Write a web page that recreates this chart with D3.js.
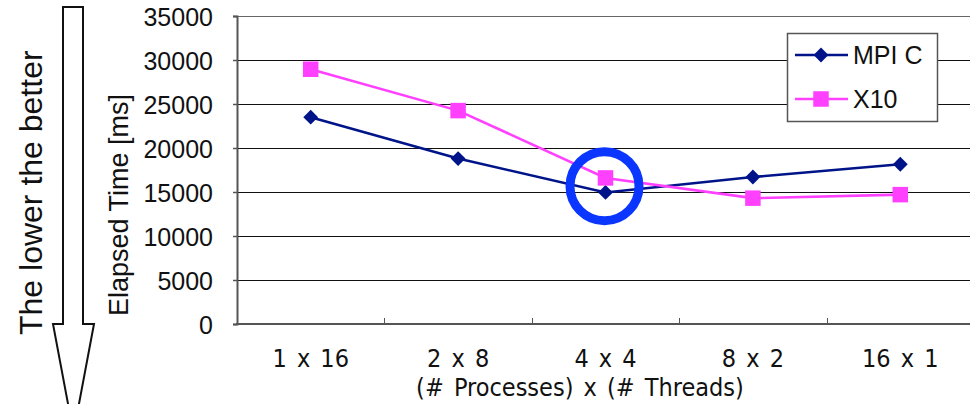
<!DOCTYPE html>
<html>
<head>
<meta charset="utf-8">
<script src="https://cdn.jsdelivr.net/npm/d3@7"></script>
<style>
  html, body { margin: 0; padding: 0; background: #fff; }
  svg { display: block; }
  .num { font-family: "Liberation Sans", Arial, sans-serif; }
  .cat { font-family: "Liberation Sans Narrow", "DejaVu Sans Condensed", "Liberation Sans", sans-serif; font-stretch: condensed; }
</style>
</head>
<body>
<svg id="chart" width="970" height="404"></svg>
<script>
// Elapsed time per process/thread split
const categories = ["1 x 16", "2 x 8", "4 x 4", "8 x 2", "16 x 1"];
const mpiC = [23500, 18800, 14950, 16700, 18150];
const x10 = [28950, 24250, 16600, 14300, 14700];
const yTicks = [0, 5000, 10000, 15000, 20000, 25000, 30000, 35000];
const seriesNames = ["MPI C", "X10"];
const highlightCategory = "4 x 4";

const W = 970, H = 404;
const plot = { left: 237, right: 974, top: 16, bottom: 324 };
const navy = "#001489", magenta = "#ff40ff", ring = "#0a36ff";

const svg = d3.select("#chart");

const x = d3.scaleBand().domain(categories).range([plot.left, plot.right]).padding(0);
const y = d3.scaleLinear().domain([0, 35000]).range([plot.bottom, plot.top]);
const cx = d => x(d) + x.bandwidth() / 2;

// Horizontal gridlines
svg.append("g").selectAll("line")
  .data(yTicks.filter(v => v > 0))
  .join("line")
  .attr("x1", plot.left).attr("x2", W)
  .attr("y1", d => Math.round(y(d)) + 0.5).attr("y2", d => Math.round(y(d)) + 0.5)
  .attr("stroke", d => d === 35000 ? "#666" : "#111")
  .attr("stroke-width", 1);

// Y axis
const yAxis = svg.append("g")
  .attr("transform", `translate(${plot.left},0)`)
  .call(d3.axisLeft(y).tickValues(yTicks).tickFormat(d3.format("d")).tickSize(4).tickPadding(20));
yAxis.select(".domain").attr("stroke", "#555").attr("stroke-width", 2);
yAxis.selectAll(".tick line").attr("stroke", "#555").attr("stroke-width", 1.5);
yAxis.selectAll("text").attr("class", "num").attr("font-size", 25).attr("fill", "#111").attr("dy", "0.38em");

// X axis line and inner ticks at category boundaries
svg.append("line")
  .attr("x1", plot.left - 1).attr("x2", W)
  .attr("y1", plot.bottom).attr("y2", plot.bottom)
  .attr("stroke", "#555").attr("stroke-width", 2);
svg.append("g").selectAll("line")
  .data(categories.slice(1))
  .join("line")
  .attr("x1", d => Math.round(x(d)) + 0.5).attr("x2", d => Math.round(x(d)) + 0.5)
  .attr("y1", plot.bottom).attr("y2", plot.bottom - 6)
  .attr("stroke", "#555").attr("stroke-width", 1);

// Category labels
svg.append("g").selectAll("text")
  .data(categories)
  .join("text")
  .attr("class", "cat")
  .attr("x", d => cx(d)).attr("y", 367)
  .attr("text-anchor", "middle")
  .attr("font-size", 25)
  .attr("word-spacing", 3)
  .attr("fill", "#111")
  .text(d => d);

svg.append("text")
  .attr("class", "cat")
  .attr("x", 580).attr("y", 396)
  .attr("text-anchor", "middle")
  .attr("font-size", 25)
  .attr("word-spacing", 3)
  .attr("fill", "#111")
  .text("(# Processes) x (# Threads)");

// Y axis title
svg.append("text")
  .attr("class", "num")
  .attr("transform", `translate(128,205) rotate(-90)`)
  .attr("text-anchor", "middle")
  .attr("font-size", 27)
  .attr("fill", "#111")
  .text("Elapsed Time [ms]");

// Series lines and markers
const line = d3.line().x((d, i) => cx(categories[i])).y(d => y(d));
const series = [
  { name: seriesNames[0], values: mpiC, color: navy, shape: "diamond" },
  { name: seriesNames[1], values: x10, color: magenta, shape: "square" }
];
const markerPath = shape => shape === "diamond"
  ? d3.symbol().type(d3.symbolSquare).size(110)()
  : d3.symbol().type(d3.symbolSquare).size(240)();
const markerRot = shape => shape === "diamond" ? 45 : 0;

series.forEach(s => {
  svg.append("path")
    .datum(s.values)
    .attr("d", line)
    .attr("fill", "none")
    .attr("stroke", s.color)
    .attr("stroke-width", 2.6);
});
series.forEach(s => {
  svg.append("g").selectAll("path")
    .data(s.values)
    .join("path")
    .attr("d", markerPath(s.shape))
    .attr("transform", (d, i) => `translate(${cx(categories[i])},${y(d)}) rotate(${markerRot(s.shape)})`)
    .attr("fill", s.color);
});

// Highlight ring around the crossover point
const ringCenter = (y(mpiC[2]) + y(x10[2])) / 2;
svg.append("circle")
  .attr("cx", cx(highlightCategory) - 1)
  .attr("cy", ringCenter + 1)
  .attr("r", 34.5)
  .attr("fill", "none")
  .attr("stroke", ring)
  .attr("stroke-width", 9);

// Legend
const lg = svg.append("g");
lg.append("rect")
  .attr("x", 787.5).attr("y", 33.5).attr("width", 150).attr("height", 88)
  .attr("fill", "#fff").attr("stroke", "#555").attr("stroke-width", 1.5);
series.forEach((s, i) => {
  const ly = 55 + i * 44;
  lg.append("line")
    .attr("x1", 795).attr("x2", 848).attr("y1", ly).attr("y2", ly)
    .attr("stroke", s.color).attr("stroke-width", 2.6);
  lg.append("path")
    .attr("d", markerPath(s.shape))
    .attr("transform", `translate(821,${ly}) rotate(${markerRot(s.shape)})`)
    .attr("fill", s.color);
  lg.append("text")
    .attr("class", "num")
    .attr("x", 853).attr("y", ly)
    .attr("dy", "0.36em")
    .attr("font-size", 25)
    .attr("fill", "#111")
    .text(s.name);
});

// "Lower is better" arrow on the left
const arrow = [[63, 7], [83, 7], [83, 324], [94, 324], [73.5, 433], [53, 324], [63, 324]];
svg.append("path")
  .attr("d", d3.line()(arrow) + "Z")
  .attr("fill", "#fff")
  .attr("stroke", "#111")
  .attr("stroke-width", 2);

svg.append("text")
  .attr("class", "num")
  .attr("transform", `translate(42,335) rotate(-90)`)
  .attr("text-anchor", "start")
  .attr("font-size", 32)
  .attr("fill", "#111")
  .text("The lower the better");
</script>
</body>
</html>
